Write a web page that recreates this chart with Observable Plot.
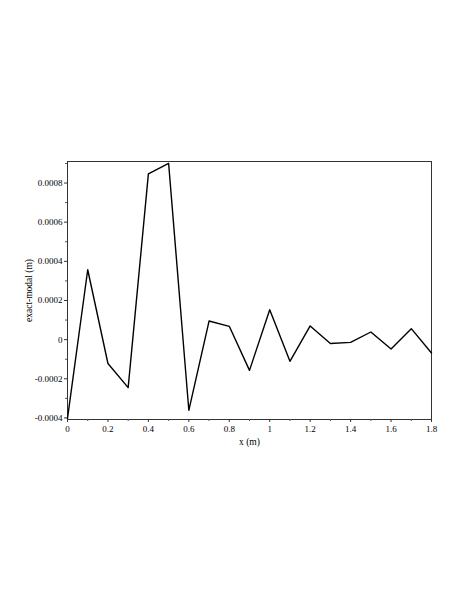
<!DOCTYPE html>
<html>
<head>
<meta charset="utf-8">
<script src="https://cdn.jsdelivr.net/npm/d3@7"></script>
<script src="https://cdn.jsdelivr.net/npm/@observablehq/plot@0.6"></script>
<style>
  html, body { margin: 0; padding: 0; background: #fff; }
  #chart { width: 468px; height: 605px; }
  #chart svg, #chart svg text { font-family: "Liberation Serif", "DejaVu Serif", "Times New Roman", serif !important; }
</style>
</head>
<body>
<div id="chart"></div>
<script>
const xValues = [0, 0.1, 0.2, 0.3, 0.4, 0.5, 0.6, 0.7, 0.8, 0.9, 1.0, 1.1, 1.2, 1.3, 1.4, 1.5, 1.6, 1.7, 1.8];
const diffValues = [-0.000402, 0.000357, -0.000122, -0.000245, 0.000847, 0.000901, -0.000361, 0.000095, 0.000068, -0.000157, 0.000153, -0.000111, 0.000070, -0.000020, -0.000014, 0.000039, -0.000048, 0.000056, -0.000068];
const xTicks = [0, 0.2, 0.4, 0.6, 0.8, 1, 1.2, 1.4, 1.6, 1.8];
const xTickLabels = ["0", "0.2", "0.4", "0.6", "0.8", "1", "1.2", "1.4", "1.6", "1.8"];
const xMinorTicks = [0.1, 0.3, 0.5, 0.7, 0.9, 1.1, 1.3, 1.5, 1.7];
const yTicks = [-0.0004, -0.0002, 0, 0.0002, 0.0004, 0.0006, 0.0008];
const yTickLabels = ["-0.0004", "-0.0002", "0", "0.0002", "0.0004", "0.0006", "0.0008"];
const yMinorTicks = [-0.0003, -0.0001, 0.0001, 0.0003, 0.0005, 0.0007, 0.0009];
const xLabel = "x (m)";
const yLabel = "exact-modal (m)";

const data = xValues.map((x, i) => ({x, y: diffValues[i]}));

const chart = Plot.plot({
  width: 468,
  height: 605,
  marginLeft: 67,
  marginRight: 37,
  marginTop: 161,
  marginBottom: 186,
  style: {fontFamily: "Liberation Serif, DejaVu Serif, serif", fontSize: "9px", color: "#000", background: "#fff"},
  x: {domain: [0, 1.8]},
  y: {domain: [-0.000408, 0.00091]},
  marks: [
    Plot.frame({stroke: "#333", strokeWidth: 1}),
    Plot.axisX({ticks: xMinorTicks, tickSize: 2, text: null, label: null, stroke: "#555"}),
    Plot.axisX({ticks: xTicks, tickSize: 3, tickPadding: 3, tickFormat: d => xTickLabels[xTicks.findIndex(t => Math.abs(t - d) < 1e-9)], label: null, stroke: "#333"}),
    Plot.axisY({ticks: yMinorTicks, tickSize: 2, text: null, label: null, stroke: "#555"}),
    Plot.axisY({ticks: yTicks, tickSize: 3, tickPadding: 2, tickFormat: d => yTickLabels[yTicks.findIndex(t => Math.abs(t - d) < 1e-9)], label: null, stroke: "#333"}),
    Plot.text([xLabel], {frameAnchor: "bottom", dy: 25, fontSize: 9.5, fill: "#000"}),
    Plot.text([yLabel], {frameAnchor: "left", textAnchor: "middle", dx: -39, rotate: -90, fontSize: 9.5, fill: "#000"}),
    Plot.line(data, {x: "x", y: "y", stroke: "#000", strokeWidth: 1.4})
  ]
});
document.getElementById("chart").append(chart);
</script>
</body>
</html>
